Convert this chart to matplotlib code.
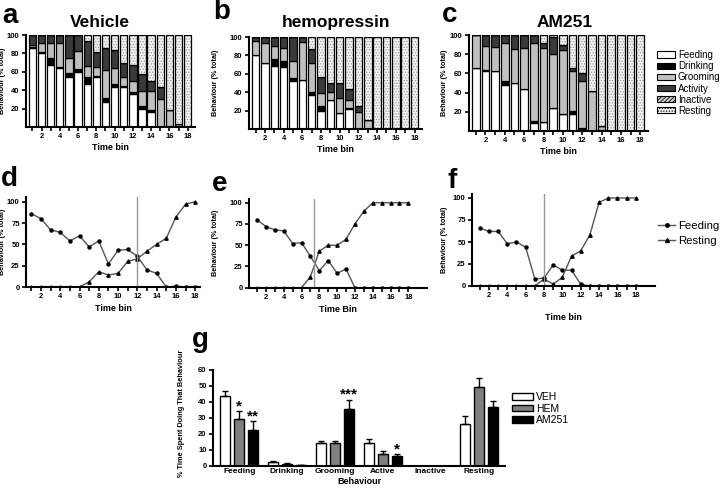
import numpy as np
import matplotlib
matplotlib.use("Agg")
import matplotlib.pyplot as plt
from matplotlib.patches import Patch
from matplotlib.lines import Line2D

plt.rcParams["font.family"] = ["Liberation Sans", "DejaVu Sans"]
plt.rcParams["hatch.linewidth"] = 0.6

bins = np.arange(1, 19)

# Vehicle (panel a / d)
veh_feed = [86, 80, 67, 64, 54, 60, 47, 54, 27, 43, 44, 36, 20, 16, 0, 1, 0, 0]
veh_drink = [1, 2, 8, 1, 5, 3, 7, 1, 5, 4, 1, 2, 3, 3, 0, 0, 0, 0]
veh_groom = [2, 9, 16, 26, 16, 20, 12, 10, 30, 17, 9, 12, 16, 20, 30, 17, 3, 0]
veh_act = [11, 9, 9, 9, 25, 17, 28, 17, 24, 20, 16, 17, 19, 11, 13, 0, 0, 0]
veh_inact = [0] * 18
veh_rest = [0, 0, 0, 0, 0, 0, 6, 18, 14, 16, 30, 33, 42, 50, 57, 82, 97, 100]

# Hemopressin (panel b / e)
hem_feed = [80, 72, 68, 67, 52, 53, 37, 20, 32, 17, 22, 0, 0, 0, 0, 0, 0, 0]
hem_drink = [0, 0, 8, 7, 3, 0, 3, 5, 0, 0, 1, 0, 0, 0, 0, 0, 0, 0]
hem_groom = [16, 22, 14, 14, 19, 42, 32, 14, 8, 17, 9, 18, 10, 0, 0, 0, 0, 0]
hem_act = [4, 6, 10, 12, 26, 5, 15, 18, 10, 16, 11, 7, 0, 0, 0, 0, 0, 0]
hem_inact = [0] * 18
hem_rest = [0, 0, 0, 0, 0, 0, 13, 43, 50, 50, 57, 75, 90, 100, 100, 100, 100, 100]

# AM251 (panel c / f)
am_feed = [66, 62, 62, 48, 50, 44, 8, 9, 24, 18, 18, 2, 0, 0, 0, 0, 0, 0]
am_drink = [0, 2, 0, 4, 0, 0, 2, 0, 0, 0, 3, 1, 0, 1, 0, 0, 0, 0]
am_groom = [34, 25, 26, 40, 35, 42, 82, 77, 56, 66, 41, 49, 42, 4, 0, 0, 0, 0]
am_act = [0, 11, 12, 8, 15, 14, 8, 6, 18, 6, 4, 8, 0, 0, 0, 0, 0, 0]
am_inact = [0] * 18
am_rest = [0, 0, 0, 0, 0, 0, 0, 8, 2, 10, 34, 40, 58, 95, 100, 100, 100, 100]

# crossing lines in d-f
cross_bins = [12, 7.4, 8]

# panel g
behaviours = ["Feeding", "Drinking", "Grooming", "Active", "Inactive", "Resting"]
veh_mean = [44, 2.5, 14.5, 14.5, 0, 26]
veh_sem = [3, 0.4, 0.8, 2.5, 0, 5]
hem_mean = [29, 1.2, 14, 7.5, 0, 49.5]
hem_sem = [5, 0.3, 1.2, 1.8, 0, 5.5]
am_mean = [22.5, 0.5, 35.5, 6, 0, 36.5]
am_sem = [5.5, 0.2, 6, 1.5, 0, 4]
stars = {(1, 0): "*", (2, 0): "**", (2, 2): "***", (2, 3): "*"}

W, H = 720, 488
fig = plt.figure(figsize=(7.2, 4.88), dpi=100)


def px_axes(x0, y0, x1, y1):
    return fig.add_axes([x0 / W, 1 - y1 / H, (x1 - x0) / W, (y1 - y0) / H])


def px_text(x, y, s, **kw):
    fig.text(x / W, 1 - y / H, s, **kw)


def style(ax):
    for s in ["top", "right"]:
        ax.spines[s].set_visible(False)
    for s in ["left", "bottom"]:
        ax.spines[s].set_linewidth(1.5)
    ax.tick_params(width=1.2, length=3, labelsize=5.5, pad=1.5)
    for lab in ax.get_xticklabels() + ax.get_yticklabels():
        lab.set_fontweight("bold")


def put_ylabel(ax, box, text, xpix):
    ax.set_ylabel(text, fontsize=5.2, fontweight="bold")
    ax.yaxis.set_label_coords((xpix - box[0]) / (box[2] - box[0]), 0.5)


seg_colors = ["white", "black", "#c0c0c0", "#3a3a3a", "#d0d0d0", "#f2f2f2"]
seg_hatch = [None, None, None, None, "////////", "......"]
seg_names = ["Feeding", "Drinking", "Grooming", "Activity", "Inactive", "Resting"]

bar_panels = [
    ((26, 35, 195, 127), "Vehicle", 100, 6.5,
     [veh_feed, veh_drink, veh_groom, veh_act, veh_inact, veh_rest]),
    ((249, 37, 422, 129), "hemopressin", 336, 219,
     [hem_feed, hem_drink, hem_groom, hem_act, hem_inact, hem_rest]),
    ((469, 35, 648, 131), "AM251", 565, 448,
     [am_feed, am_drink, am_groom, am_act, am_inact, am_rest]),
]

for (box, title, tx, lx, segs) in bar_panels:
    ax = px_axes(*box)
    bottom = np.zeros(18)
    for vals, c, h in zip(segs, seg_colors, seg_hatch):
        vals = np.array(vals, dtype=float)
        if h:
            ax.bar(bins, vals, bottom=bottom, width=0.8, color=c, hatch=h,
                   edgecolor="#9a9a9a", linewidth=0)
            ax.bar(bins, vals, bottom=bottom, width=0.8, fill=False,
                   edgecolor="black", linewidth=0.9)
        else:
            ax.bar(bins, vals, bottom=bottom, width=0.8, color=c,
                   edgecolor="black", linewidth=0.9)
        bottom += vals
    ax.set_xlim(0.3, 18.8)
    ax.set_ylim(0, 100)
    ax.set_yticks([20, 40, 60, 80, 100])
    ax.set_xticks(bins, minor=True)
    ax.set_xticks(range(2, 19, 2))
    ax.tick_params(axis="x", which="minor", width=1.2, length=3)
    put_ylabel(ax, box, "Behaviour (% total)", lx)
    ax.set_xlabel("Time bin", fontsize=6.5, fontweight="bold", labelpad=2)
    style(ax)
    px_text(tx, 27, title, fontsize=12.5, fontweight="bold", ha="center", va="baseline")

handles = [Patch(facecolor=c, edgecolor="black", hatch=h, linewidth=0.8)
           for c, h in zip(seg_colors, seg_hatch)]
fig.legend(handles, seg_names, loc="upper left", bbox_to_anchor=(657 / W, 1 - 50 / H),
           frameon=False, fontsize=7, labelspacing=0.12, handlelength=1.9,
           handleheight=0.6, handletextpad=0.25, borderpad=0, borderaxespad=0)

line_panels = [
    ((26, 197.4, 200, 287), veh_feed, veh_rest, (0.45, 18.5), "Time bin", 3, 6.5),
    ((249, 198.5, 427, 287.7), hem_feed, hem_rest, (0.1, 20.1), "Time Bin", 3, 219),
    ((472, 193.6, 655, 286), am_feed, am_rest, (0.15, 20.1), "Time bin", 10, 448),
]

for (box, feed, rest, xl, xlab, lp, lx), xc in zip(line_panels, cross_bins):
    ax = px_axes(*box)
    ax.plot(bins, feed, color="#555555", lw=1, marker="o", ms=2.2,
            mfc="black", mec="black")
    ax.plot(bins, rest, color="#555555", lw=1, marker="^", ms=2.4,
            mfc="black", mec="black")
    ax.axvline(xc, color="#999999", lw=1)
    ax.set_xlim(*xl)
    ax.set_ylim(0, 105)
    ax.set_yticks([0, 25, 50, 75, 100])
    ax.set_xticks(bins, minor=True)
    ax.set_xticks(range(2, 19, 2))
    ax.tick_params(axis="x", which="minor", width=1.2, length=3)
    put_ylabel(ax, box, "Behaviour (% total)", lx)
    ax.set_xlabel(xlab, fontsize=6.5, fontweight="bold", labelpad=lp)
    style(ax)

lh = [Line2D([], [], color="#555555", lw=1, marker="o", ms=2.5, mfc="black", mec="black"),
      Line2D([], [], color="#555555", lw=1, marker="^", ms=2.8, mfc="black", mec="black")]
fig.legend(lh, ["Feeding", "Resting"], loc="upper left",
           bbox_to_anchor=(658 / W, 1 - 221 / H), frameon=False, fontsize=8.2,
           labelspacing=0.45, handlelength=1.5, handletextpad=0.25,
           borderpad=0, borderaxespad=0)

# panel g
ax = px_axes(213, 370, 505, 465.7)
x = np.arange(len(behaviours))
off = 0.29
bw = 0.21
groups = [(veh_mean, veh_sem, "white", "VEH"), (hem_mean, hem_sem, "#808080", "HEM"),
          (am_mean, am_sem, "black", "AM251")]
for i, (m, e, c, lab) in enumerate(groups):
    xs = x + (i - 1) * off
    ax.bar(xs, m, width=bw, color=c, edgecolor="black", linewidth=1, label=lab)
    ax.errorbar(xs, m, yerr=[np.zeros(len(e)), e], fmt="none", ecolor="black",
                elinewidth=1, capsize=2.5, capthick=1)
for (gi, ci), s in stars.items():
    g = groups[gi]
    top = g[0][ci] + g[1][ci]
    ax.text(x[ci] + (gi - 1) * off, top - 1.5, s, ha="center", va="bottom",
            fontsize=11, fontweight="bold")
ax.set_xlim(-0.55, 5.55)
ax.set_ylim(0, 60)
ax.set_yticks(range(0, 61, 10))
ax.set_xticks(x)
ax.set_xticklabels(behaviours)
ax.set_ylabel("% Time Spent Doing That Behaviour", fontsize=5.3, fontweight="bold")
ax.yaxis.set_label_coords((185 - 213) / (505 - 213), 0.55)
ax.set_xlabel("Behaviour", fontsize=6.5, fontweight="bold", labelpad=1)
style(ax)
ax.tick_params(axis="x", labelsize=6, length=0, pad=2)
for lab in ax.get_xticklabels():
    lab.set_fontweight("bold")
fig.legend(loc="upper left", bbox_to_anchor=(512 / W, 1 - 392 / H), frameon=False,
           fontsize=7.5, labelspacing=0.15, handlelength=2.0, handleheight=0.6,
           handletextpad=0.3, borderpad=0, borderaxespad=0)

# panel letters
for (px, py, s) in [(2, 23, "a"), (213, 19, "b"), (442, 22, "c"), (1, 186, "d"),
                    (212, 191, "e"), (447, 188, "f"), (192, 347, "g")]:
    px_text(px, py, s, fontsize=20, fontweight="bold", va="baseline")

fig.savefig("out.png", dpi=100)
